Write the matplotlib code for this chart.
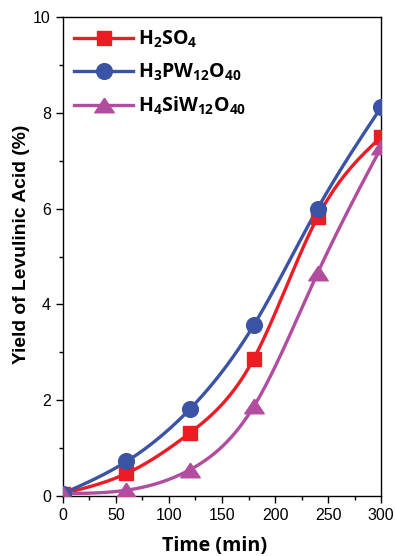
import numpy as np
import matplotlib
matplotlib.use("Agg")
import matplotlib.pyplot as plt
from matplotlib.ticker import MultipleLocator

time_min = [0, 60, 120, 180, 240, 300]
h2so4 = [0.05, 0.47, 1.32, 2.87, 5.82, 7.50]
h3pw = [0.05, 0.72, 1.82, 3.57, 6.00, 8.12]
h4siw = [0.05, 0.12, 0.55, 1.87, 4.65, 7.28]
labels = ['H$_2$SO$_4$', 'H$_3$PW$_{12}$O$_{40}$', 'H$_4$SiW$_{12}$O$_{40}$']
xticks = [0, 50, 100, 150, 200, 250, 300]
yticks = [0, 2, 4, 6, 8, 10]


def natural_spline(x, y, xs):
    x = np.asarray(x, float); y = np.asarray(y, float)
    n = len(x)
    h = np.diff(x)
    A = np.zeros((n, n)); b = np.zeros(n)
    A[0, 0] = 1; A[-1, -1] = 1
    for i in range(1, n - 1):
        A[i, i - 1] = h[i - 1]
        A[i, i] = 2 * (h[i - 1] + h[i])
        A[i, i + 1] = h[i]
        b[i] = 3 * ((y[i + 1] - y[i]) / h[i] - (y[i] - y[i - 1]) / h[i - 1])
    c = np.linalg.solve(A, b)
    out = np.empty_like(xs)
    for k, xv in enumerate(xs):
        i = min(max(np.searchsorted(x, xv) - 1, 0), n - 2)
        dx = xv - x[i]
        bi = (y[i + 1] - y[i]) / h[i] - h[i] * (2 * c[i] + c[i + 1]) / 3
        di = (c[i + 1] - c[i]) / (3 * h[i])
        out[k] = y[i] + bi * dx + c[i] * dx ** 2 + di * dx ** 3
    return out


plt.rcParams['mathtext.default'] = 'regular'

fig = plt.figure(figsize=(3.95, 5.56), dpi=100)
ax = fig.add_axes([0.159, 0.108, 0.806, 0.861])

tri = [(0, 0.75), (-1, -0.75), (1, -0.75), (0, 0.75)]
colors = ['#ED1C24', '#3A53A4', '#B24C9F']
markers = ['s', 'o', tri]
msizes = [10.6, 11.3, 14.0]
series = [h2so4, h3pw, h4siw]
xs = np.linspace(5, 300, 300)
for ys, col, mk, ms, lab in zip(series, colors, markers, msizes, labels):
    ycurve = np.clip(natural_spline(time_min, ys, xs), 0.02, None)
    ax.plot(xs, ycurve, color=col, lw=2.4, zorder=2)
    ax.plot(time_min, ys, ls='none', marker=mk, ms=ms, color=col, zorder=3)
    ax.plot([], [], color=col, lw=2.4, marker=mk, ms=ms, label=lab)

ax.set_xlim(0, 300)
ax.set_ylim(0, 10)
ax.set_xticks(xticks)
ax.set_yticks(yticks)
ax.xaxis.set_minor_locator(MultipleLocator(25))
ax.yaxis.set_minor_locator(MultipleLocator(1))
ax.tick_params(which='major', direction='out', length=5, width=1, labelsize=11.5,
               labelfontfamily='Liberation Sans')
ax.tick_params(which='minor', direction='out', length=3, width=1)
for sp in ax.spines.values():
    sp.set_linewidth(1)

ax.set_xlabel('Time (min)', fontsize=14.2, fontweight='bold', family='Open Sans')
ax.xaxis.set_label_coords(0.478, -0.083)
ax.set_ylabel('Yield of Levulinic Acid (%)', fontsize=13.9, fontweight='bold',
              family='Liberation Sans')
ax.yaxis.set_label_coords(-0.104, 0.526)

leg = ax.legend(loc='upper left', frameon=False, handlelength=3.0, handletextpad=0.26,
                labelspacing=0.6, borderaxespad=0.2,
                prop={'family': 'Open Sans', 'weight': 'bold', 'size': 14})

fig.savefig('out.png', dpi=100)
